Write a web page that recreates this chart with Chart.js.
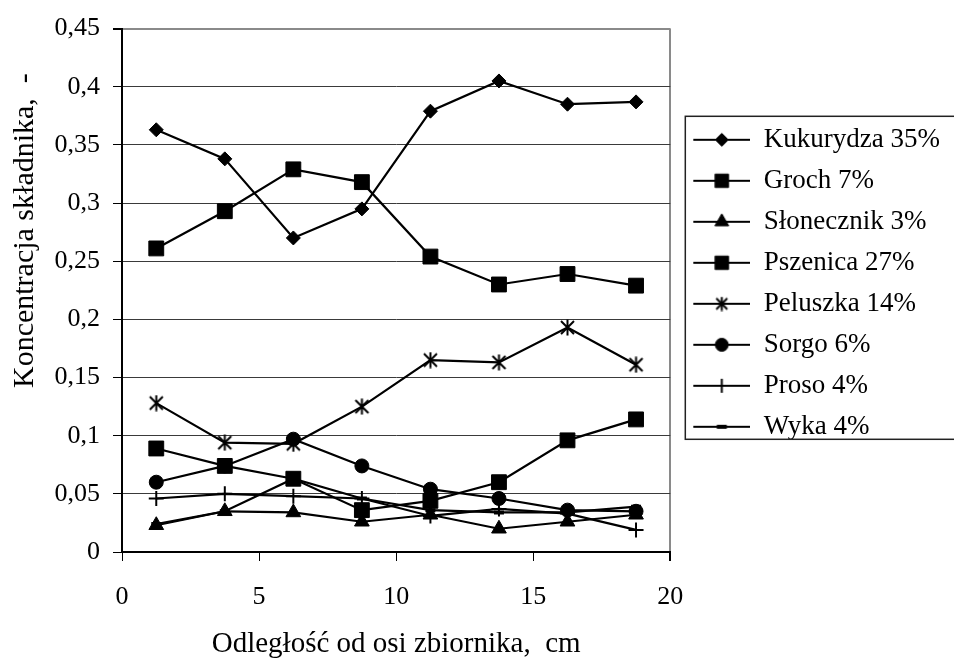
<!DOCTYPE html>
<html>
<head>
<meta charset="utf-8">
<script src="https://cdn.jsdelivr.net/npm/chart.js@4/dist/chart.umd.min.js"></script>
<style>
  html, body { margin: 0; padding: 0; background: #ffffff; }
  #wrap { width: 954px; height: 659px; position: relative; }
</style>
</head>
<body>
<div id="wrap"><canvas id="c" width="954" height="659"></canvas></div>
<script>
// ---------- data ----------
const xValues = [1.25, 3.75, 6.25, 8.75, 11.25, 13.75, 16.25, 18.75];

const seriesNames = ['Kukurydza 35%', 'Groch 7%', 'Słonecznik 3%', 'Pszenica 27%',
                     'Peluszka 14%', 'Sorgo 6%', 'Proso 4%', 'Wyka 4%'];

const kukurydza  = [0.363, 0.338, 0.270, 0.295, 0.379, 0.405, 0.385, 0.387];
const groch      = [0.089, 0.074, 0.063, 0.036, 0.044, 0.060, 0.096, 0.114];
const slonecznik = [0.023, 0.035, 0.034, 0.026, 0.032, 0.020, 0.026, 0.032];
const pszenica   = [0.261, 0.293, 0.329, 0.318, 0.254, 0.230, 0.239, 0.229];
const peluszka   = [0.128, 0.094, 0.093, 0.125, 0.165, 0.163, 0.193, 0.161];
const sorgo      = [0.060, 0.074, 0.097, 0.074, 0.054, 0.046, 0.036, 0.035];
const proso      = [0.046, 0.050, 0.048, 0.046, 0.031, 0.037, 0.033, 0.019];
const wyka       = [0.024, 0.035, 0.063, 0.046, 0.036, 0.034, 0.034, 0.039];

const xTickLabels = ['0', '5', '10', '15', '20'];
const yTickLabels = ['0', '0,05', '0,1', '0,15', '0,2', '0,25', '0,3', '0,35', '0,4', '0,45'];

const xTitle = 'Odległość od osi zbiornika,  cm';
const yTitle = 'Koncentracja składnika,  -';

// ---------- styling ----------
const FONT = "'Liberation Serif', 'Times New Roman', serif";
Chart.defaults.font.family = FONT;
Chart.defaults.color = '#000';

function makeAsterisk(size, lw) {
  const c = document.createElement('canvas');
  c.width = size; c.height = size;
  const g = c.getContext('2d');
  g.strokeStyle = '#000'; g.lineWidth = lw; g.lineCap = 'butt';
  const m = 2, s = size;
  g.beginPath();
  g.moveTo(m, m); g.lineTo(s - m, s - m);
  g.moveTo(s - m, m); g.lineTo(m, s - m);
  g.moveTo(s / 2, 0.5); g.lineTo(s / 2, s - 0.5);
  g.stroke();
  return c;
}

const asteriskBig = makeAsterisk(17, 2);
const asteriskSmall = makeAsterisk(15, 2);

// marker style per series (data)
const markers = [
  { style: 'rectRot',  radius: 7,    bw: 1 },
  { style: 'rect',     radius: 10.5, bw: 1 },
  { style: 'triangle', radius: 8.5,  bw: 1 },
  { style: 'rect',     radius: 10.5, bw: 1 },
  { style: asteriskBig, radius: 8,   bw: 2 },
  { style: 'circle',   radius: 7,    bw: 1 },
  { style: 'cross',    radius: 7.5,  bw: 2 },
  { style: 'line',     radius: 5,    bw: 4 }
];
// marker style per series (legend)
const legendMarkers = [
  { style: 'rectRot',  radius: 6.5, bw: 1 },
  { style: 'rect',     radius: 9.5, bw: 1 },
  { style: 'triangle', radius: 8,   bw: 1 },
  { style: 'rect',     radius: 9.5, bw: 1 },
  { style: asteriskSmall, radius: 7, bw: 2 },
  { style: 'circle',   radius: 6.5, bw: 1 },
  { style: 'cross',    radius: 7,   bw: 2 },
  { style: 'line',     radius: 5,   bw: 4 }
];

const LEG_W = 66;
function makeLegendImg(mk) {
  const c = document.createElement('canvas');
  c.width = LEG_W; c.height = 24;
  const g = c.getContext('2d');
  g.strokeStyle = '#000'; g.fillStyle = '#000';
  g.lineWidth = 2;
  g.beginPath(); g.moveTo(9, 12); g.lineTo(LEG_W, 12); g.stroke();
  const cx = 9 + (LEG_W - 9) / 2;
  if (typeof mk.style !== 'string') {
    g.drawImage(mk.style, cx - mk.style.width / 2, 12 - mk.style.height / 2);
  } else {
    g.lineWidth = mk.bw;
    Chart.helpers.drawPoint(g, { pointStyle: mk.style, radius: mk.radius, borderWidth: mk.bw, rotation: 0 }, cx, 12);
  }
  return c;
}
const legendImgs = legendMarkers.map(makeLegendImg);

const allSeries = [kukurydza, groch, slonecznik, pszenica, peluszka, sorgo, proso, wyka];

const datasets = allSeries.map((vals, i) => ({
  label: seriesNames[i],
  data: xValues.map((x, j) => ({ x: x, y: vals[j] })),
  borderColor: '#000',
  backgroundColor: '#000',
  borderWidth: 2.2,
  tension: 0,
  fill: false,
  pointStyle: markers[i].style,
  pointRadius: markers[i].radius,
  pointHoverRadius: markers[i].radius,
  pointBorderWidth: markers[i].bw,
  pointBackgroundColor: '#000',
  pointBorderColor: '#000'
}));

// y-axis title (drawn as real text, rotated)
const yTitlePlugin = {
  id: 'yTitlePlugin',
  afterDraw(chart) {
    const g = chart.ctx;
    g.save();
    g.font = '30px ' + FONT;
    g.fillStyle = '#000';
    g.textAlign = 'center';
    g.textBaseline = 'middle';
    g.translate(25, chart.chartArea.top + 202);
    g.rotate(-Math.PI / 2);
    g.fillText(yTitle, 0, 0);
    g.restore();
  }
};

// legend vertical shift + frame
const legendFramePlugin = {
  id: 'legendFrame',
  afterLayout(chart) {
    const lg = chart.legend;
    if (lg) { lg.top -= 7; lg.bottom -= 7; }
  },
  afterDraw(chart) {
    const lg = chart.legend;
    if (!lg || !lg.legendHitBoxes || !lg.legendHitBoxes.length) return;
    const hb = lg.legendHitBoxes;
    const top = hb[0].top - 10;
    const last = hb[hb.length - 1];
    const bottom = last.top + last.height - 1;
    const left = lg.left + 15;
    const g = chart.ctx;
    g.save();
    g.strokeStyle = '#222';
    g.lineWidth = 1.5;
    g.strokeRect(left, top, chart.width + 10 - left, bottom - top);
    g.restore();
  }
};

new Chart(document.getElementById('c'), {
  type: 'line',
  data: { datasets: datasets },
  plugins: [yTitlePlugin, legendFramePlugin],
  options: {
    responsive: false,
    animation: false,
    events: [],
    layout: { padding: { top: 25, left: 0, right: 4, bottom: 0 } },
    plugins: {
      tooltip: { enabled: false },
      legend: {
        position: 'right',
        align: 'center',
        fullSize: false,
        maxWidth: 400,
        labels: {
          usePointStyle: true,
          pointStyleWidth: LEG_W,
          padding: 14,
          color: '#000',
          font: { size: 27, family: FONT },
          generateLabels: (chart) => chart.data.datasets.map((ds, i) => ({
            text: ds.label,
            pointStyle: legendImgs[i],
            datasetIndex: i,
            hidden: false,
            lineWidth: 0,
            strokeStyle: 'rgba(0,0,0,0)',
            fillStyle: 'rgba(0,0,0,0)',
            fontColor: '#000'
          }))
        }
      }
    },
    scales: {
      x: {
        type: 'linear',
        min: 0, max: 20,
        ticks: {
          stepSize: 5,
          padding: 21,
          color: '#000',
          font: { size: 26, family: FONT },
          callback: (v) => xTickLabels[Math.round(v / 5)]
        },
        grid: {
          drawOnChartArea: true,
          drawTicks: true,
          tickLength: 9,
          tickColor: '#000',
          color: (ctx) => (ctx.tick && ctx.tick.value === 20) ? '#8a8a8a' : 'rgba(0,0,0,0)',
          lineWidth: (ctx) => (ctx.tick && ctx.tick.value === 20) ? 2 : 1
        },
        border: { display: true, color: '#000', width: 2 },
        title: {
          display: true,
          text: xTitle,
          color: '#000',
          font: { size: 29, family: FONT, lineHeight: 1 },
          padding: 0
        },
        afterFit: (s) => { s.height = 107; }
      },
      y: {
        type: 'linear',
        min: 0, max: 0.45,
        ticks: {
          stepSize: 0.05,
          padding: 13,
          color: '#000',
          font: { size: 26, family: FONT },
          callback: (v) => yTickLabels[Math.round(v / 0.05)]
        },
        grid: {
          drawOnChartArea: true,
          drawTicks: true,
          tickLength: 9,
          tickColor: '#000',
          color: (ctx) => (ctx.tick && ctx.tick.value >= 0.449) ? '#8a8a8a' : '#3a3a3a',
          lineWidth: (ctx) => (ctx.tick && ctx.tick.value >= 0.449) ? 2 : 1
        },
        border: { display: true, color: '#000', width: 2 },
        afterFit: (s) => { s.width = 122; }
      }
    }
  }
});
</script>
</body>
</html>
